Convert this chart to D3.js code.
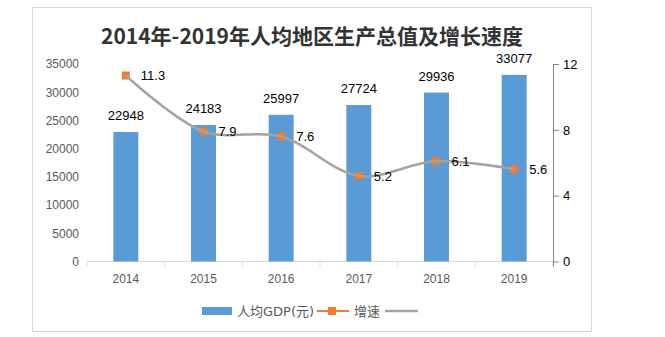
<!DOCTYPE html>
<html>
<head>
<meta charset="utf-8">
<script src="https://cdn.jsdelivr.net/npm/d3@7"></script>
<style>
  body { margin: 0; background: #fff; }
  svg { display: block; }
</style>
</head>
<body>
<svg id="chart" width="665" height="337"></svg>
<script>
// chart values
const years = ["2014", "2015", "2016", "2017", "2018", "2019"];
const gdpPerCapita = [22948, 24183, 25997, 27724, 29936, 33077];
const growthRate = [11.3, 7.9, 7.6, 5.2, 6.1, 5.6];
const leftTicks = [0, 5000, 10000, 15000, 20000, 25000, 30000, 35000];
const rightTicks = [0, 4, 8, 12];

const svg = d3.select("#chart");
const font = "'Liberation Sans', 'Noto Sans', sans-serif";
const cjk = "'Noto Sans CJK SC', 'Noto Sans', sans-serif";

const plot = { left: 87, right: 553, top: 64, bottom: 261.5 };

// chart frame
svg.append("rect")
  .attr("x", 32.5).attr("y", 7.5)
  .attr("width", 559).attr("height", 324)
  .attr("fill", "#fff").attr("stroke", "#d9d9d9");

svg.append("text")
  .attr("x", 312).attr("y", 44)
  .attr("text-anchor", "middle")
  .attr("font-family", cjk)
  .attr("font-weight", "bold")
  .attr("font-size", 21)
  .attr("fill", "#333")
  .text("2014年-2019年人均地区生产总值及增长速度");

const x = d3.scaleBand().domain(years).range([plot.left, plot.right]);
const yLeft = d3.scaleLinear().domain([0, 35000]).range([plot.bottom, plot.top]);
const yRight = d3.scaleLinear().domain([0, 12]).range([plot.bottom, plot.top]);

// left axis: labels only
const leftAxis = svg.append("g")
  .attr("transform", `translate(${plot.left - 8},0)`)
  .call(d3.axisLeft(yLeft).tickValues(leftTicks).tickFormat(d3.format("d")).tickSize(0).tickPadding(0));
leftAxis.select(".domain").remove();
leftAxis.selectAll("text")
  .attr("font-family", font).attr("font-size", 12).attr("fill", "#595959");

// bottom axis with ticks at band boundaries
const xAxis = svg.append("g").attr("transform", `translate(0,${plot.bottom})`);
xAxis.append("line")
  .attr("x1", plot.left).attr("x2", plot.right)
  .attr("stroke", "#d9d9d9");
xAxis.selectAll("line.tick")
  .data(years.concat(["end"]))
  .join("line")
  .attr("class", "tick")
  .attr("x1", (d, i) => i < years.length ? x(d) : plot.right)
  .attr("x2", (d, i) => i < years.length ? x(d) : plot.right)
  .attr("y1", 0).attr("y2", 5)
  .attr("stroke", "#d9d9d9");
xAxis.selectAll("text")
  .data(years)
  .join("text")
  .attr("x", (d) => x(d) + x.bandwidth() / 2)
  .attr("y", 21)
  .attr("text-anchor", "middle")
  .attr("font-family", font).attr("font-size", 12).attr("fill", "#595959")
  .text((d) => d);

// right axis
const rightAxis = svg.append("g")
  .attr("transform", `translate(${plot.right},0)`)
  .call(d3.axisRight(yRight).tickValues(rightTicks).tickSize(6).tickPadding(4).tickSizeOuter(0));
rightAxis.select(".domain")
  .attr("stroke", "#868686")
  .attr("d", `M0.5,${plot.top}V${plot.bottom + 5}`);
rightAxis.selectAll(".tick line").attr("stroke", "#868686");
rightAxis.selectAll("text")
  .attr("font-family", font).attr("font-size", 13).attr("fill", "#000");

// bars
const barWidth = 25;
svg.append("g")
  .selectAll("rect")
  .data(gdpPerCapita)
  .join("rect")
  .attr("x", (d, i) => x(years[i]) + x.bandwidth() / 2 - barWidth / 2)
  .attr("y", (d) => yLeft(d))
  .attr("width", barWidth)
  .attr("height", (d) => plot.bottom - yLeft(d))
  .attr("fill", "#5b9bd5");

svg.append("g")
  .selectAll("text")
  .data(gdpPerCapita)
  .join("text")
  .attr("x", (d, i) => x(years[i]) + x.bandwidth() / 2)
  .attr("y", (d) => yLeft(d) - 12)
  .attr("text-anchor", "middle")
  .attr("font-family", font).attr("font-size", 13).attr("fill", "#000")
  .text((d) => d);

// growth series: orange markers, grey smoothed line drawn over them
const pts = growthRate.map((v, i) => [x(years[i]) + x.bandwidth() / 2, yRight(v)]);

svg.append("g")
  .selectAll("rect")
  .data(pts)
  .join("rect")
  .attr("x", (d) => d[0] - 4).attr("y", (d) => d[1] - 4)
  .attr("width", 8).attr("height", 8)
  .attr("fill", "#ed7d31");

svg.append("path")
  .attr("d", d3.line().curve(d3.curveCatmullRom.alpha(0.5))(pts))
  .attr("fill", "none").attr("stroke", "#a9a29c").attr("stroke-width", 2.5);

svg.append("g")
  .selectAll("text")
  .data(growthRate)
  .join("text")
  .attr("x", (d, i) => pts[i][0] + 15)
  .attr("y", (d, i) => pts[i][1])
  .attr("dy", "0.36em")
  .attr("font-family", font).attr("font-size", 13).attr("fill", "#000")
  .text((d) => d.toFixed(1));

// legend (wider latin glyphs, CJK falls back to Noto)
const legend = svg.append("g")
  .attr("font-family", "'DejaVu Sans', 'Noto Sans CJK SC', sans-serif")
  .attr("font-size", 13).attr("fill", "#595959");
legend.append("rect").attr("x", 202).attr("y", 307).attr("width", 30).attr("height", 8).attr("fill", "#5b9bd5");
legend.append("text").attr("x", 237).attr("y", 311).attr("dy", "0.36em").text("人均GDP(元)");
legend.append("line").attr("x1", 317).attr("x2", 349).attr("y1", 311).attr("y2", 311)
  .attr("stroke", "#ed7d31").attr("stroke-width", 2);
legend.append("rect").attr("x", 328).attr("y", 307).attr("width", 8).attr("height", 8).attr("fill", "#ed7d31");
legend.append("text").attr("x", 354).attr("y", 311).attr("dy", "0.36em").text("增速");
legend.append("line").attr("x1", 385).attr("x2", 418).attr("y1", 311).attr("y2", 311)
  .attr("stroke", "#aaa39d").attr("stroke-width", 2.5);
</script>
</body>
</html>
